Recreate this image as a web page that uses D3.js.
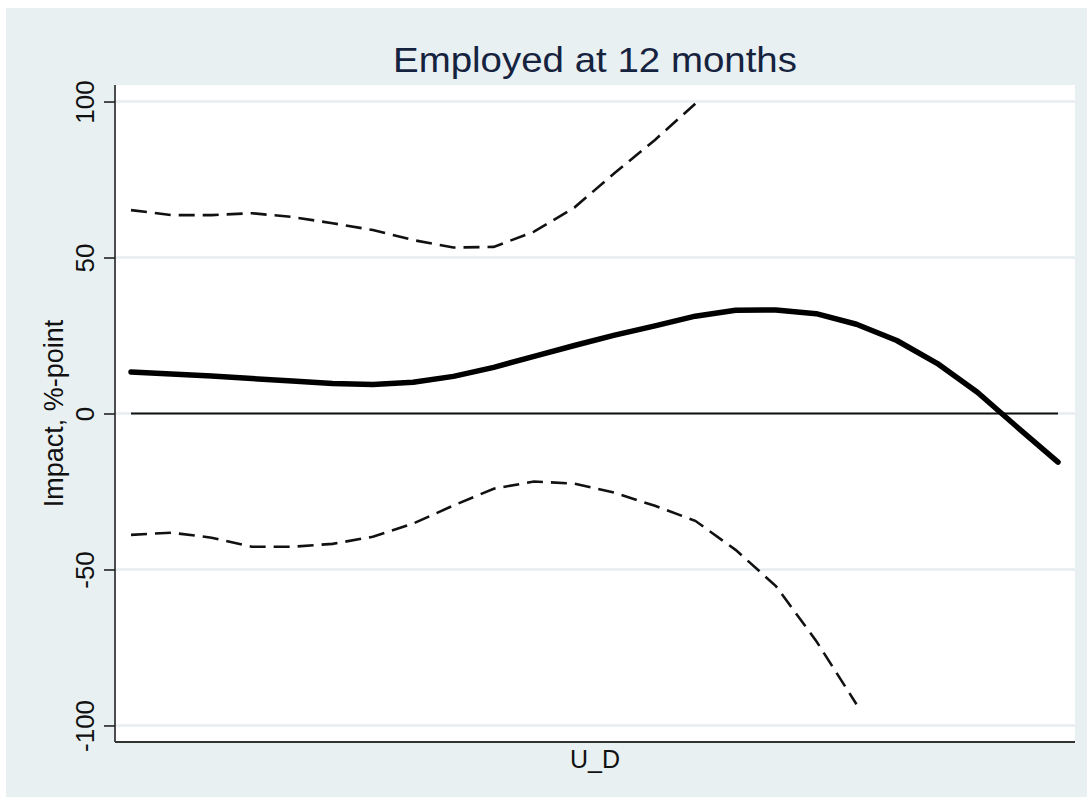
<!DOCTYPE html>
<html>
<head>
<meta charset="utf-8">
<script src="https://cdn.jsdelivr.net/npm/d3@7"></script>
<style>
  body { margin: 0; background: #ffffff; }
  text { font-family: "Liberation Sans", Arial, sans-serif; }
</style>
</head>
<body>
<svg id="chart" width="1092" height="803"></svg>
<script>
// Evaluation grid along U_D (points at which the effect was estimated)
const udGrid = [0, 1, 2, 3, 4, 5, 6, 7, 8, 9, 10, 11, 12, 13, 14, 15, 16, 17, 18, 19, 20, 21, 22, 23];

// Estimated impact, %-points
const impact = [13.3, 12.7, 12.0, 11.2, 10.4, 9.6, 9.3, 10.0, 11.9, 14.8, 18.3, 21.8,
                25.1, 28.1, 31.2, 33.1, 33.2, 32.0, 28.6, 23.4, 16.1, 6.8, -4.5, -15.6];

// Upper confidence bound (only drawn while inside the axis range)
const upperCI = [65.2, 63.6, 63.6, 64.2, 63.0, 61.0, 58.8, 55.6, 53.2, 53.4, 58.3, 66.0,
                 77.1, 87.7, 99.3];

// Lower confidence bound
const lowerCI = [-38.9, -38.2, -39.8, -42.7, -42.7, -41.8, -39.5, -35.3, -29.5, -24.1,
                 -21.8, -22.5, -25.4, -29.6, -34.4, -43.7, -55.3, -72.9, -93.2];

const yTicks = [-100, -50, 0, 50, 100];

const titleText = "Employed at 12 months";
const yTitle = "Impact, %-point";
const xTitle = "U_D";

// Layout
const plot = { left: 115, right: 1075, top: 85, bottom: 742 };
const xPadL = 16, xPadR = 17;

const svg = d3.select("#chart");

// Graph background
svg.append("rect")
  .attr("x", 6).attr("y", 8)
  .attr("width", 1081).attr("height", 789)
  .attr("fill", "#e8f0f2");

// Plot region
svg.append("rect")
  .attr("x", plot.left).attr("y", plot.top)
  .attr("width", plot.right - plot.left).attr("height", plot.bottom - plot.top)
  .attr("fill", "#ffffff");

const x = d3.scaleLinear()
  .domain(d3.extent(udGrid))
  .range([plot.left + xPadL, plot.right - xPadR]);

const y = d3.scaleLinear()
  .domain([-105.3, 105.3])
  .range([plot.bottom, plot.top]);

// Horizontal grid lines
svg.append("g")
  .selectAll("line")
  .data(yTicks)
  .join("line")
  .attr("x1", plot.left).attr("x2", plot.right)
  .attr("y1", d => y(d)).attr("y2", d => y(d))
  .attr("stroke", "#e6eef1")
  .attr("stroke-width", 2.5);

// Y axis (plain hyphen for negative labels)
const yAxis = d3.axisLeft(y)
  .tickValues(yTicks)
  .tickSize(11)
  .tickPadding(0)
  .tickFormat(d => String(d));

const gy = svg.append("g")
  .attr("transform", `translate(${plot.left},0)`)
  .call(yAxis);
gy.select(".domain")
  .attr("d", `M0,${plot.top}V${plot.bottom}`)
  .attr("stroke", "#222")
  .attr("stroke-width", 1.6);
gy.selectAll(".tick line").attr("stroke", "#222").attr("stroke-width", 1.6);
gy.selectAll(".tick text")
  .attr("x", null).attr("dy", null)
  .attr("transform", "translate(-21,0) rotate(-90)")
  .attr("text-anchor", "middle")
  .attr("font-size", 26)
  .attr("font-family", "\"Liberation Sans\", Arial, sans-serif")
  .attr("fill", "#111");

// X axis line (no ticks)
svg.append("line")
  .attr("x1", plot.left).attr("x2", plot.right)
  .attr("y1", plot.bottom).attr("y2", plot.bottom)
  .attr("stroke", "#333")
  .attr("stroke-width", 2);

// Zero reference line across the evaluated range
svg.append("line")
  .attr("x1", x(udGrid[0])).attr("x2", x(udGrid[udGrid.length - 1]))
  .attr("y1", y(0)).attr("y2", y(0))
  .attr("stroke", "#111")
  .attr("stroke-width", 2);

const line = d3.line()
  .x((d, i) => x(udGrid[i]))
  .y(d => y(d));

// Confidence bounds
[upperCI, lowerCI].forEach(ci => {
  svg.append("path")
    .datum(ci)
    .attr("d", line)
    .attr("fill", "none")
    .attr("stroke", "#111")
    .attr("stroke-width", 2.6)
    .attr("stroke-dasharray", "16,8");
});

// Point estimate
svg.append("path")
  .datum(impact)
  .attr("d", line)
  .attr("fill", "none")
  .attr("stroke", "#000")
  .attr("stroke-width", 5.5)
  .attr("stroke-linejoin", "round")
  .attr("stroke-linecap", "round");

// Titles
svg.append("text")
  .attr("x", (plot.left + plot.right) / 2)
  .attr("y", 72)
  .attr("text-anchor", "middle")
  .attr("font-size", 35)
  .attr("textLength", 404)
  .attr("lengthAdjust", "spacingAndGlyphs")
  .attr("fill", "#16233f")
  .text(titleText);

svg.append("text")
  .attr("transform", `translate(63,${(plot.top + plot.bottom) / 2}) rotate(-90)`)
  .attr("text-anchor", "middle")
  .attr("font-size", 27)
  .attr("fill", "#111")
  .text(yTitle);

svg.append("text")
  .attr("x", (plot.left + plot.right) / 2)
  .attr("y", 768)
  .attr("text-anchor", "middle")
  .attr("font-size", 25)
  .attr("fill", "#111")
  .text(xTitle);
</script>
</body>
</html>
